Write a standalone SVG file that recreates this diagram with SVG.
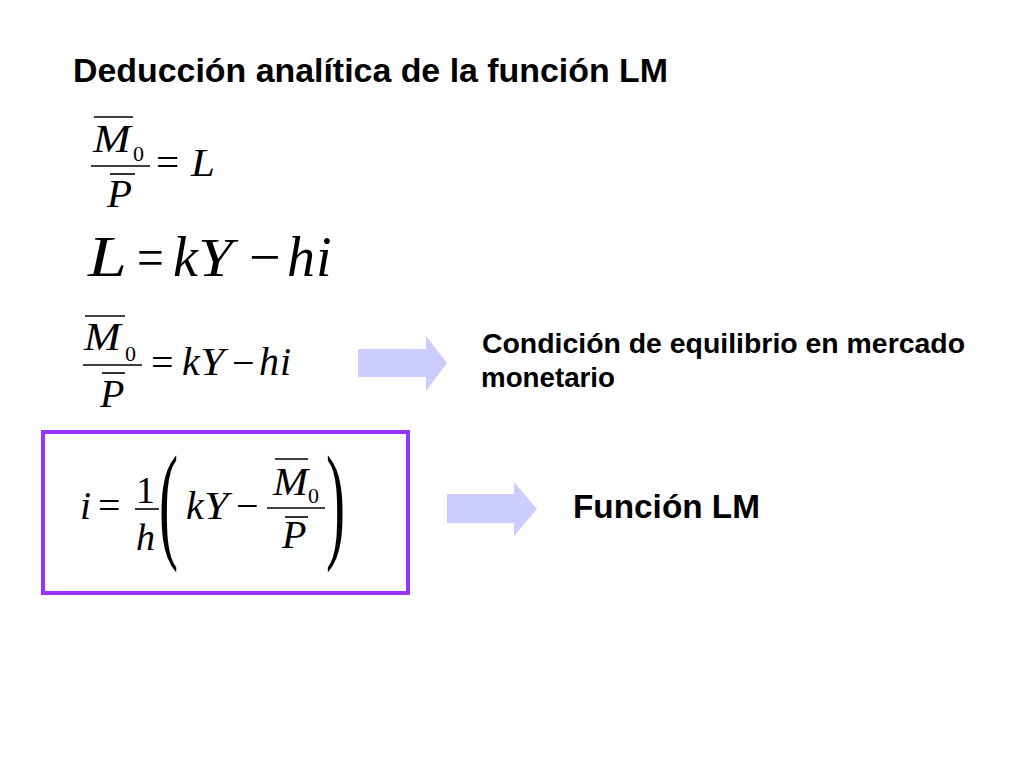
<svg xmlns="http://www.w3.org/2000/svg" width="1024" height="768" viewBox="0 0 1024 768">
<style>
.t{font-family:"Liberation Sans",Arial,sans-serif;font-weight:bold;fill:#000}
.m{font-family:"Liberation Serif","Times New Roman",serif;font-style:italic;fill:#000}
.u{font-family:"Liberation Serif","Times New Roman",serif;fill:#000}
.bar{stroke:#000;stroke-width:1.6}
.arrow{fill:#CCCCFF}
</style>
<rect width="1024" height="768" fill="#fff"/>
<g id="title">
<text class="t" x="73" y="82" font-size="33" textLength="595" lengthAdjust="spacingAndGlyphs">Deducción analítica de la función LM</text>
</g>
<g id="eq1">
<line class="bar" x1="94" y1="117" x2="133" y2="117"/>
<text class="m" transform="translate(93,152) scale(1.1,1)" font-size="41">M</text>
<text class="u" x="133" y="161" font-size="22">0</text>
<line class="bar" x1="91" y1="166" x2="150" y2="166"/>
<line class="bar" x1="110" y1="174" x2="135" y2="174"/>
<text class="m" x="107" y="207" font-size="41">P</text>
<text class="u" x="156" y="176" font-size="41">=</text>
<text class="m" transform="translate(191,176) scale(1.05,1)" font-size="41">L</text>
</g>
<g id="eq2">
<text class="m" transform="translate(88,276) scale(1.25,1)" font-size="56">L</text>
<text class="u" transform="translate(137,276) scale(0.85,1)" font-size="56">=</text>
<text class="m" x="173" y="276" font-size="56">k</text>
<text class="m" transform="translate(198,276) scale(1.12,1)" font-size="56">Y</text>
<text class="u" x="249" y="276" font-size="56">−</text>
<text class="m" x="287" y="276" font-size="56">h</text>
<text class="m" x="316" y="276" font-size="56">i</text>
</g>
<g id="eq3">
<line class="bar" x1="85" y1="316" x2="125" y2="316"/>
<text class="m" transform="translate(84,350) scale(1.1,1)" font-size="40">M</text>
<text class="u" x="125" y="361" font-size="22">0</text>
<line class="bar" x1="83" y1="365" x2="142" y2="365"/>
<line class="bar" x1="102" y1="373" x2="125" y2="373"/>
<text class="m" x="100" y="407" font-size="40">P</text>
<text class="u" x="151" y="376" font-size="40">=</text>
<text class="m" x="182" y="375" font-size="40">k</text>
<text class="m" transform="translate(200,375) scale(1.1,1)" font-size="40">Y</text>
<text class="u" x="232" y="376" font-size="40">−</text>
<text class="m" x="259" y="375" font-size="40">h</text>
<text class="m" x="280" y="375" font-size="40">i</text>
</g>
<g id="arrow1">
<polygon class="arrow" points="358,349 426,349 426,336 447,363 426,391 426,377 358,377"/>
</g>
<g id="label1">
<text class="t" x="482" y="353" font-size="28" textLength="483" lengthAdjust="spacingAndGlyphs">Condición de equilibrio en mercado</text>
<text class="t" x="481" y="387" font-size="28" textLength="134" lengthAdjust="spacingAndGlyphs">monetario</text>
</g>
<g id="eq4">
<rect x="43" y="432" width="365" height="161" fill="none" stroke="#9933FF" stroke-width="4"/>
<text class="m" x="80" y="519" font-size="40">i</text>
<text class="u" x="98" y="519" font-size="40">=</text>
<text class="u" x="136" y="503" font-size="38">1</text>
<line class="bar" x1="135" y1="509" x2="159" y2="509"/>
<text class="m" x="136" y="550" font-size="38">h</text>
<text class="u" transform="translate(159,545) scale(1.3,2.95)" font-size="44">(</text>
<text class="m" x="186" y="519" font-size="40">k</text>
<text class="m" transform="translate(204,519) scale(1.1,1)" font-size="40">Y</text>
<text class="u" x="236" y="519" font-size="40">−</text>
<line class="bar" x1="267" y1="508" x2="325" y2="508"/>
<line class="bar" x1="275" y1="459" x2="308" y2="459"/>
<text class="m" transform="translate(273,495) scale(1.05,1)" font-size="40">M</text>
<text class="u" x="308" y="503" font-size="22">0</text>
<line class="bar" x1="285" y1="517" x2="308" y2="517"/>
<text class="m" x="282" y="548" font-size="40">P</text>
<text class="u" transform="translate(326,545) scale(1.3,2.95)" font-size="44">)</text>
</g>
<g id="arrow2">
<polygon class="arrow" points="447,494 514,494 514,482 537,509 514,536 514,523 447,523"/>
</g>
<g id="label2">
<text class="t" x="573" y="518" font-size="33" textLength="187" lengthAdjust="spacingAndGlyphs">Función LM</text>
</g>
</svg>
